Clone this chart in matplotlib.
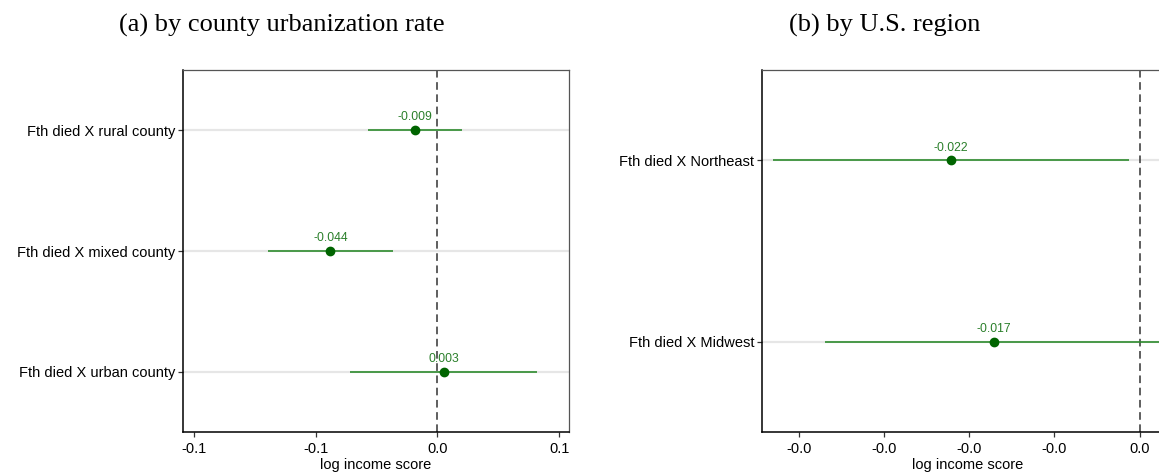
import numpy as np
import matplotlib
matplotlib.use("Agg")
import matplotlib.pyplot as plt
from matplotlib.ticker import FormatStrFormatter

# panel (a): by county urbanization rate
urban_labels = ["Fth died X rural county", "Fth died X mixed county", "Fth died X urban county"]
urban_coef = [-0.0091, -0.0439, 0.0027]
urban_lo = [-0.0284, -0.0696, -0.0357]
urban_hi = [0.0103, -0.0182, 0.0411]
urban_xticks = [-0.1, -0.05, 0.0, 0.05]

# panel (b): by U.S. region
region_labels = ["Fth died X Northeast", "Fth died X Midwest"]
region_coef = [-0.0222, -0.0171]
region_lo = [-0.0431, -0.0369]
region_hi = [-0.0013, 0.0027]
region_xticks = [-0.04, -0.03, -0.02, -0.01, 0.0]

W, H = 1159, 473
LINE_C = "#2e8b2e"
DOT_C = "#006400"
TXT_C = "#2a7f2a"

plt.rcParams["font.family"] = ["Liberation Sans", "DejaVu Sans"]


def px_axes(fig, x0, x1, y0, y1):
    return fig.add_axes([x0 / W, 1 - y1 / H, (x1 - x0) / W, (y1 - y0) / H])


def coef_panel(ax, labels, coef, lo, hi, xlim, xticks):
    n = len(labels)
    ys = np.arange(n)
    for y in ys:
        ax.axhline(y, color="#e6e6e6", lw=1.6, zorder=0)
    ax.axvline(0, color="#333333", lw=1.1, ls=(0, (5, 3)), zorder=1)
    ax.hlines(ys, lo, hi, color=LINE_C, lw=1.2, zorder=2)
    ax.plot(coef, ys, "o", color=DOT_C, ms=6, zorder=3)
    for x, y in zip(coef, ys):
        ax.annotate(f"{x:.3f}", (x, y), xytext=(0, 5), textcoords="offset points",
                    ha="center", va="bottom", fontsize=8.7, color=TXT_C)
    ax.set_yticks(ys)
    ax.set_yticklabels(labels)
    ax.set_ylim(n - 0.5, -0.5)
    ax.set_xlim(*xlim)
    ax.set_xticks(xticks)
    ax.xaxis.set_major_formatter(FormatStrFormatter("%.1f"))
    ax.set_xlabel("log income score", fontsize=10.5, labelpad=1.5)
    ax.tick_params(direction="out", length=3.8, width=0.9, labelsize=10.5, pad=2,
                   color="#333333")
    ax.tick_params(axis="x", pad=3.2)
    for side in ("left", "bottom"):
        ax.spines[side].set_color("black")
        ax.spines[side].set_linewidth(1.1)
    for side in ("top", "right"):
        ax.spines[side].set_color("#555555")
        ax.spines[side].set_linewidth(0.9)


fig = plt.figure(figsize=(W / 100, H / 100), dpi=100)

ax_a = px_axes(fig, 183.3, 568.6, 70, 432)
coef_panel(ax_a, urban_labels, urban_coef, urban_lo, urban_hi,
           (-0.1043, 0.0539), urban_xticks)

ax_b = px_axes(fig, 762.3, 1172, 70, 432)
coef_panel(ax_b, region_labels, region_coef, region_lo, region_hi,
           (-0.0443, 0.0038), region_xticks)

fig.text(282 / W, 1 - 25 / H, "(a) by county urbanization rate", ha="center", va="center",
         fontsize=19, family="Liberation Serif")
fig.text(885 / W, 1 - 25 / H, "(b) by U.S. region", ha="center", va="center",
         fontsize=19, family="Liberation Serif")

fig.savefig("out.png", dpi=100)
